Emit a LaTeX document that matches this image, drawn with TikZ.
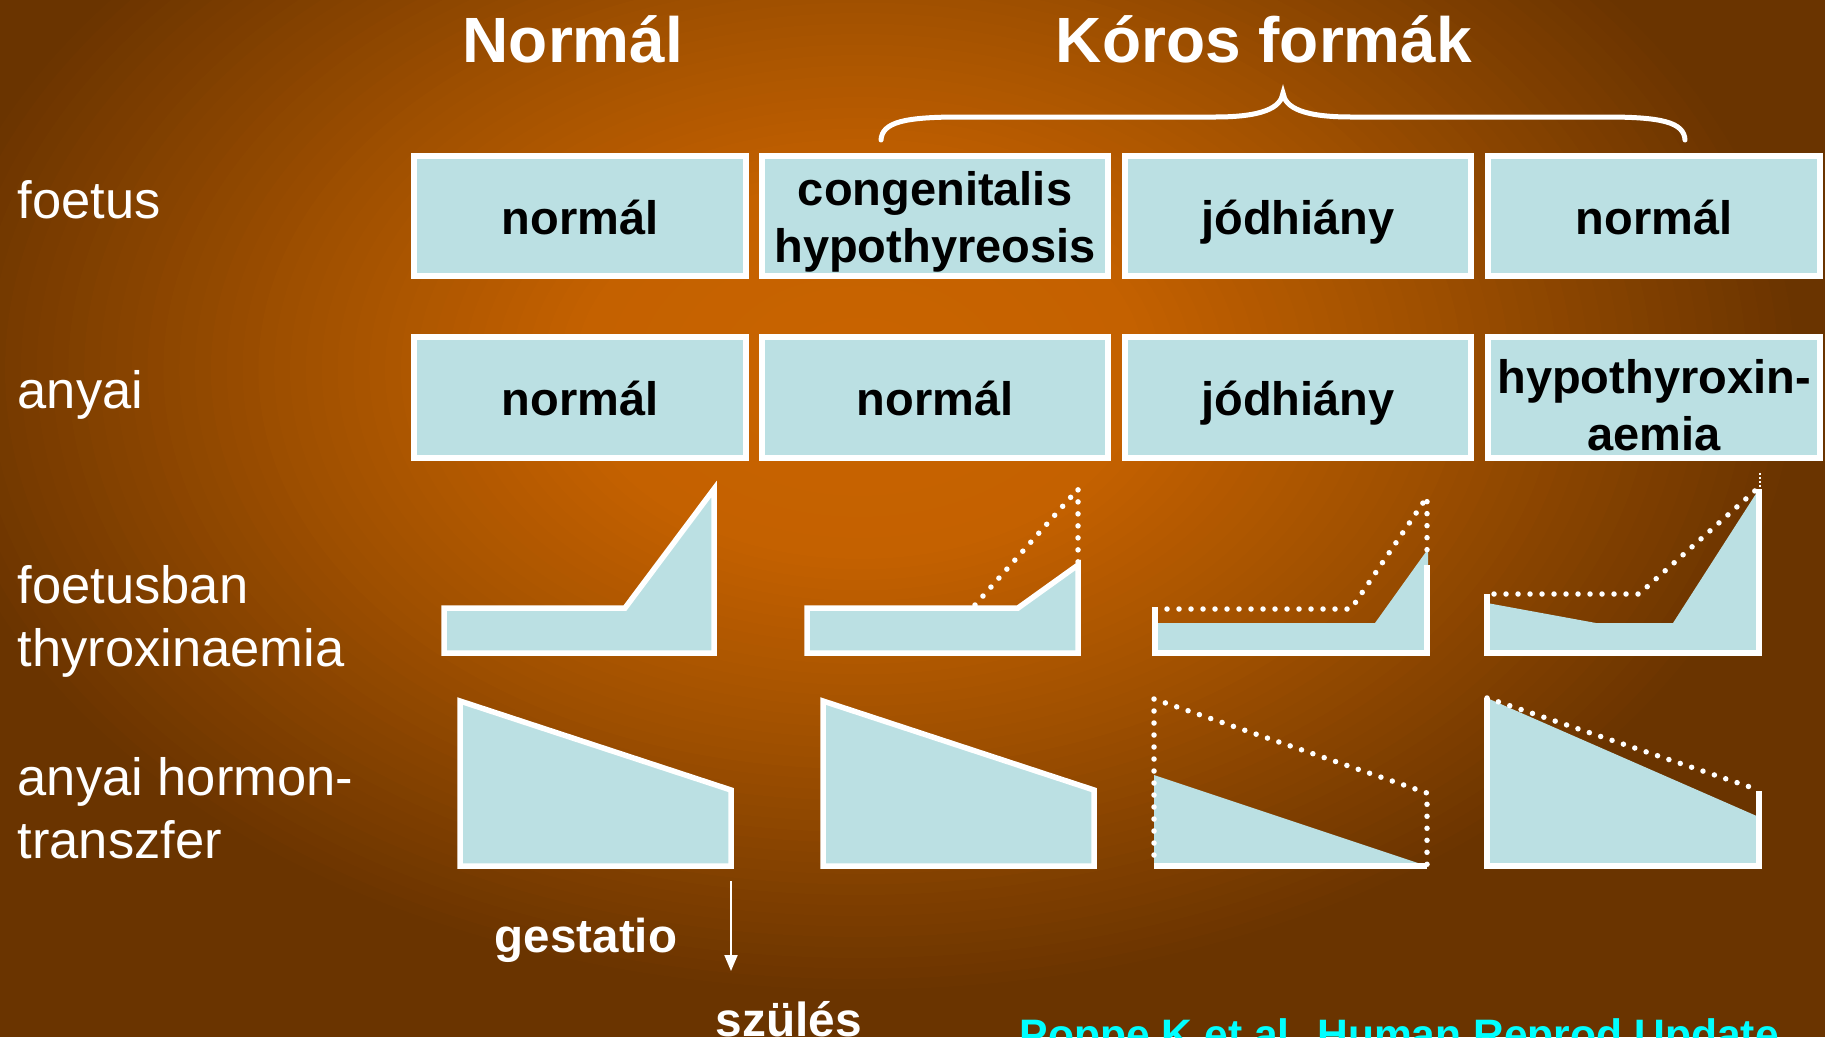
\documentclass[tikz,border=0pt]{standalone}
\usepackage{fontspec}
\setmainfont{Liberation Sans}
\usetikzlibrary{arrows.meta}
\definecolor{boxfill}{HTML}{BBE0E3}
\definecolor{citecol}{HTML}{00FFFF}
\definecolor{bgA}{HTML}{C96400}
\definecolor{bgB}{HTML}{C46100}
\definecolor{bgC}{HTML}{A05000}
\definecolor{bgD}{HTML}{6A3400}
\begin{document}
\begin{tikzpicture}[x=1pt,y=-1pt,
  box/.style={draw=white, line width=6pt, fill=boxfill, inner sep=0pt, minimum height=120pt, text=black, font=\fontsize{47}{57}\selectfont\bfseries, align=center, text height=36pt, text depth=0pt},
  lab/.style={text=white, font=\fontsize{52.5}{63}\selectfont, anchor=base west, align=left, inner sep=0pt},
  ttl/.style={text=white, font=\fontsize{64}{70}\selectfont\bfseries, anchor=base, inner sep=0pt},
  boldw/.style={text=white, font=\fontsize{47.5}{57}\selectfont\bfseries, anchor=base, inner sep=0pt},
  solidw/.style={draw=white, line width=5.5pt},
  dotw/.style={draw=white, line width=5.5pt, line cap=round, dash pattern=on 0pt off 12pt},
]
\useasboundingbox (0,0) rectangle (1825,1037);
% background: elliptical gradient built from concentric rings
\begin{scope}
\clip (0,0) rectangle (1825,1037);
\fill[bgD] (0,0) rectangle (1825,1037);
\foreach \i in {60,59,...,1}{
  \ifnum\i>35
    \pgfmathsetmacro\pp{(\i-36)*100/24}\def\cc{bgD!\pp!bgC}
  \else\ifnum\i>17
    \pgfmathsetmacro\pp{(\i-18)*100/18}\def\cc{bgC!\pp!bgB}
  \else
    \pgfmathsetmacro\pp{\i*100/18}\def\cc{bgB!\pp!bgA}
  \fi\fi
  \pgfmathsetmacro\rx{15.8333*\i}
  \pgfmathsetmacro\ry{10.5*\i}
  \fill[color=\cc] (860,370) ellipse [x radius=\rx, y radius=\ry];
}
\end{scope}

% titles
\node[ttl] (tnorm) at (573,62) {Normál};
\node[ttl] (tkor) at (1264,62) {Kóros formák};
\draw[white, line width=5pt, line cap=round] (881,140) .. controls (882,122) and (905,117) .. (960,117) -- (1215,117) .. controls (1262,117) and (1281,108) .. (1283,93) .. controls (1285,108) and (1304,117) .. (1351,117) -- (1606,117) .. controls (1661,117) and (1684,122) .. (1685,140);

% left labels (base = last line)
\node[lab] (lfoetus) at (17.5,218) {foetus};
\node[lab] (lanyai) at (17.5,408) {anyai};
\node[lab] (lthyr) at (17.5,666) {foetusban\\thyroxinaemia};
\node[lab] (lhorm) at (17.5,858) {anyai hormon-\\transzfer};

% boxes row 1
\node[box, minimum width=332pt] (f1) at (580,216) {normál};
\node[box, minimum width=346pt, text height=92pt] (f2) at (935,216) {congenitalis\\hypothyreosis};
\node[box, minimum width=346pt] (f3) at (1298,216) {jódhiány};
\node[box, minimum width=332pt] (f4) at (1654,216) {normál};
% boxes row 2
\node[box, minimum width=332pt, minimum height=121pt] (a1) at (580,397.5) {normál};
\node[box, minimum width=346pt, minimum height=121pt] (a2) at (935,397.5) {normál};
\node[box, minimum width=346pt, minimum height=121pt] (a3) at (1298,397.5) {jódhiány};
\node[box, minimum width=332pt, minimum height=121pt, text height=105pt] (a4) at (1654,397.5) {hypothyroxin-\\aemia};

% row 3 graphs: foetal thyroxinaemia
\filldraw[fill=boxfill, solidw] (444,608) -- (625,608) -- (714,489) -- (714,653) -- (444,653) -- cycle;
\filldraw[fill=boxfill, solidw] (807,608) -- (1018,608) -- (1078,565) -- (1078,653) -- (807,653) -- cycle;
\draw[dotw] (975,605) -- (1078,489) -- (1078,565);
\fill[boxfill] (1155,623) -- (1375,623) -- (1428,549) -- (1428,653) -- (1155,653) -- cycle;
\draw[solidw] (1155,607) -- (1155,653) -- (1427,653) -- (1427,565);
\draw[dotw] (1167,609) -- (1351,609) -- (1427,497) -- (1427,560);
\fill[boxfill] (1487,603) -- (1596,623) -- (1673,623) -- (1759,489) -- (1759,653) -- (1487,653) -- cycle;
\draw[solidw] (1487,594) -- (1487,653) -- (1759,653) -- (1759,489);
\draw[dotw] (1494,594) -- (1639,594) -- (1757,489);
\draw[white, line width=1.5pt, dash pattern=on 2pt off 2pt] (1760,473) -- (1760,489);

% row 4 graphs: maternal hormone transfer
\filldraw[fill=boxfill, solidw] (460,701) -- (731,790) -- (731,866) -- (460,866) -- cycle;
\filldraw[fill=boxfill, solidw] (823,701) -- (1094,790) -- (1094,866) -- (823,866) -- cycle;
\fill[boxfill] (1154,775) -- (1427,866) -- (1154,866) -- cycle;
\draw[solidw] (1154,866) -- (1427,866);
\draw[dotw] (1154,855) -- (1154,699) -- (1427,793) -- (1427,866);
\fill[boxfill] (1487,698) -- (1759,817) -- (1759,866) -- (1487,866) -- cycle;
\draw[solidw] (1487,698) -- (1487,866) -- (1759,866) -- (1759,791);
\draw[dotw] (1487,698) -- (1750,787);

% bottom
\node[boldw] (gest) at (586,952) {gestatio};
\coordinate (arrtop) at (731,881);
\coordinate (arrtip) at (731,971);
\draw[white, line width=2pt, -{Triangle[width=13pt,length=16pt]}] (arrtop) -- (arrtip);
\node[boldw, font=\fontsize{47.8}{57}\selectfont\bfseries] (szul) at (789,1036) {szülés};
\node[text=citecol, font=\fontsize{42.6}{50}\selectfont\bfseries, anchor=base west, inner sep=0pt] (cite) at (1019.6,1049.5) {Poppe K et al. Human Reprod Update};
\end{tikzpicture}
\end{document}
